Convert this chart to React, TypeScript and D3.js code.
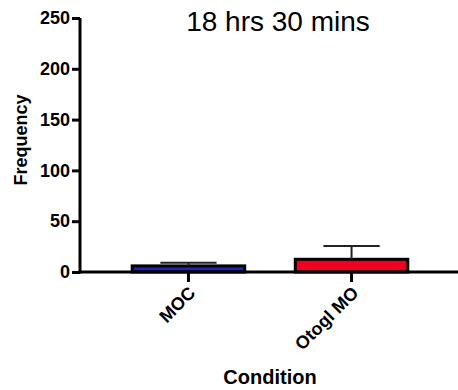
import { useEffect, useRef } from 'react';
import * as d3 from 'd3';

const categories = ['MOC', 'Otogl MO'];
const means = [6, 12.5];
const errors = [3, 13];
const barColors = ['#2323b4', '#f0001e'];
const yTicks = [0, 50, 100, 150, 200, 250];

const W = 458;
const H = 390;
const FONT = 'Liberation Sans, Arial, sans-serif';

export default function App() {
  const svgRef = useRef<SVGSVGElement>(null);

  useEffect(() => {
    if (!svgRef.current) return;
    const svg = d3.select(svgRef.current);
    svg.selectAll('*').remove();

    const x = d3.scaleBand<string>()
      .domain(categories)
      .range([80, 460])
      .paddingInner(0.31)
      .paddingOuter(0.32);
    const y = d3.scaleLinear().domain([0, 250]).range([272, 18]);

    const g = svg.append('g');

    // bars
    categories.forEach((c, i) => {
      const x0 = x(c)!;
      g.append('rect')
        .attr('x', x0)
        .attr('y', y(means[i]))
        .attr('width', x.bandwidth())
        .attr('height', y(0) - y(means[i]))
        .attr('fill', barColors[i])
        .attr('stroke', '#000')
        .attr('stroke-width', 3);

      // upper error bar
      const cx = x0 + x.bandwidth() / 2;
      const top = y(means[i] + errors[i]);
      g.append('line')
        .attr('x1', cx).attr('x2', cx)
        .attr('y1', y(means[i])).attr('y2', top)
        .attr('stroke', '#222').attr('stroke-width', 2);
      g.append('line')
        .attr('x1', cx - x.bandwidth() / 4).attr('x2', cx + x.bandwidth() / 4)
        .attr('y1', top).attr('y2', top)
        .attr('stroke', '#222').attr('stroke-width', 2);
    });

    // y axis
    const yAxis = svg.append('g')
      .attr('transform', 'translate(80,0)')
      .call(d3.axisLeft(y).tickValues(yTicks).tickSize(8).tickSizeOuter(0).tickPadding(2));
    yAxis.select('.domain').attr('stroke', '#000').attr('stroke-width', 3)
      .attr('d', `M0,${y(250)}V${y(0) + 1.5}`);
    yAxis.selectAll('.tick line').attr('stroke', '#000').attr('stroke-width', 3);
    yAxis.selectAll('.tick text')
      .attr('fill', '#000')
      .style('font-family', FONT)
      .style('font-size', '18px')
      .style('font-weight', 'bold');

    // x axis
    const xAxis = svg.append('g')
      .attr('transform', `translate(0,${y(0)})`)
      .call(d3.axisBottom(x).tickSize(10).tickSizeOuter(0).tickPadding(4));
    xAxis.select('.domain').attr('stroke', '#000').attr('stroke-width', 3)
      .attr('d', 'M78.5,0H458');
    xAxis.selectAll('.tick line').attr('stroke', '#000').attr('stroke-width', 3);
    xAxis.selectAll('.tick text')
      .attr('fill', '#000')
      .attr('text-anchor', 'end')
      .attr('dy', '0')
      .attr('transform', 'translate(8,22) rotate(-45)')
      .attr('y', 0)
      .style('font-family', FONT)
      .style('font-size', '18px')
      .style('font-weight', 'bold');

    // axis titles
    svg.append('text')
      .attr('transform', 'translate(27,140) rotate(-90)')
      .attr('text-anchor', 'middle')
      .style('font-family', FONT)
      .style('font-size', '18px')
      .style('font-weight', 'bold')
      .text('Frequency');
    svg.append('text')
      .attr('x', 270)
      .attr('y', 384)
      .attr('text-anchor', 'middle')
      .style('font-family', FONT)
      .style('font-size', '20px')
      .style('font-weight', 'bold')
      .text('Condition');

    // title
    svg.append('text')
      .attr('x', 278)
      .attr('y', 31)
      .attr('text-anchor', 'middle')
      .style('font-family', FONT)
      .style('font-size', '28px')
      .text('18 hrs 30 mins');
  }, []);

  return (
    <svg
      ref={svgRef}
      width={W}
      height={H}
      style={{ position: 'absolute', left: 0, top: 0, background: '#fff' }}
    />
  );
}
